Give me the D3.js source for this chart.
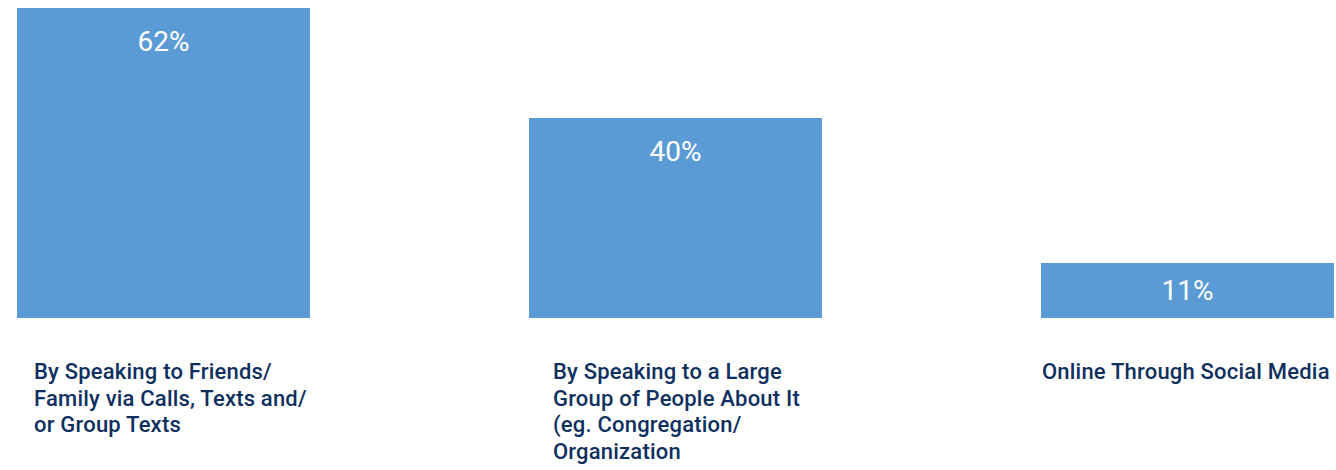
<!DOCTYPE html>
<html>
<head>
<meta charset="utf-8">
<script src="https://cdn.jsdelivr.net/npm/d3@7"></script>
<style>
  html, body { margin: 0; padding: 0; background: #fff; }
  svg { display: block; }
</style>
</head>
<body>
<svg id="chart" width="1336" height="470"></svg>
<script>
const categories = [
  "By Speaking to Friends/ Family via Calls, Texts and/ or Group Texts",
  "By Speaking to a Large Group of People About It (eg. Congregation/ Organization",
  "Online Through Social Media"
];
const categoryLines = [
  ["By Speaking to Friends/", "Family via Calls, Texts and/", "or Group Texts"],
  ["By Speaking to a Large", "Group of People About It", "(eg. Congregation/", "Organization"],
  ["Online Through Social Media"]
];
const values = [62, 40, 11];
const valueLabels = ["62%", "40%", "11%"];

const W = 1336, H = 470;
const svg = d3.select("#chart");

const x = d3.scaleBand()
  .domain(categories)
  .range([17, 1334])
  .paddingInner(0.4277)
  .paddingOuter(0);

const y = d3.scaleLinear()
  .domain([0, 62])
  .range([318, 8]);

const labelIndent = [17, 24, 1];

svg.selectAll("rect.bar")
  .data(values)
  .join("rect")
  .attr("class", "bar")
  .attr("x", (d, i) => x(categories[i]))
  .attr("y", d => y(d))
  .attr("width", x.bandwidth())
  .attr("height", d => y(0) - y(d))
  .attr("fill", "#5b9bd5");

svg.selectAll("text.val")
  .data(values)
  .join("text")
  .attr("class", "val")
  .attr("x", (d, i) => x(categories[i]) + x.bandwidth() / 2)
  .attr("y", d => y(d) + Math.min(43, (y(0) - y(d)) / 2 + 9))
  .attr("text-anchor", "middle")
  .attr("fill", "#ffffff")
  .attr("font-family", "Roboto, 'Noto Sans', sans-serif")
  .attr("font-size", 28)
  .attr("font-weight", 400)
  .text((d, i) => valueLabels[i]);

const g = svg.selectAll("text.cat")
  .data(categories)
  .join("text")
  .attr("class", "cat")
  .attr("x", (d, i) => x(d) + labelIndent[i])
  .attr("y", 379)
  .attr("fill", "#0f2f5f")
  .attr("font-family", "Roboto, 'Noto Sans', sans-serif")
  .attr("font-size", 22)
  .attr("font-weight", 500)
  .attr("letter-spacing", 0.2);

g.selectAll("tspan")
  .data((d, i) => categoryLines[i].map(t => ({t, i})))
  .join("tspan")
  .attr("x", d => x(categories[d.i]) + labelIndent[d.i])
  .attr("dy", (d, j) => j === 0 ? 0 : 26.7)
  .text(d => d.t);
</script>
</body>
</html>
